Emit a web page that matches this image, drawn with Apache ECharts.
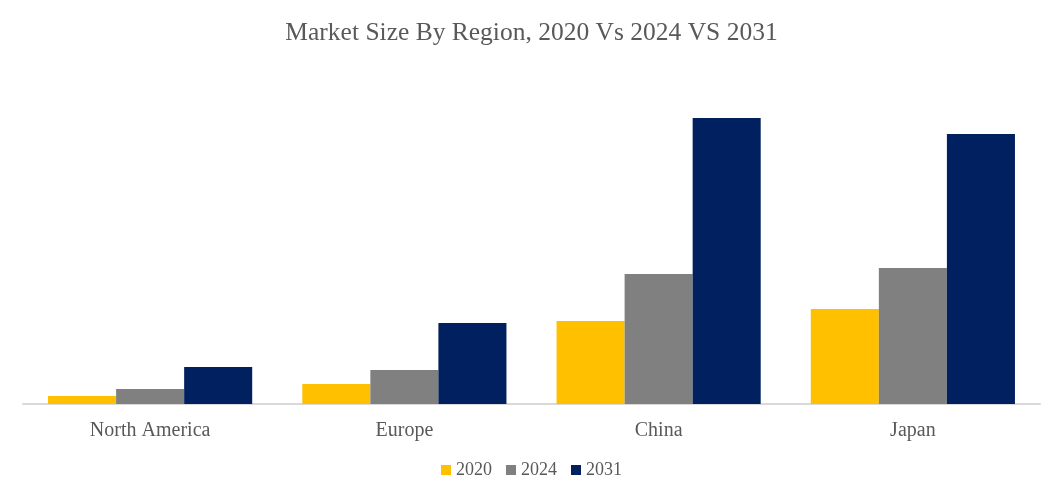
<!DOCTYPE html>
<html><head><meta charset="utf-8">
<script src="https://cdn.jsdelivr.net/npm/echarts@6/dist/echarts.min.js"></script>
<style>html,body{margin:0;padding:0;background:#fff}#c{width:1063px;height:501px}</style>
</head><body><div id="c"></div>
<script>
const categories = ['North America', 'Europe', 'China', 'Japan'];
const seriesNames = ['2020', '2024', '2031'];
const values2020 = [0.8, 2.0, 8.3, 9.5];
const values2024 = [1.5, 3.4, 13.0, 13.6];
const values2031 = [3.7, 8.1, 28.6, 27.0];
const colors = ['#FFC000', '#808080', '#002060'];
const font = '"Liberation Serif", "DejaVu Serif", serif';
const chart = echarts.init(document.getElementById('c'));
chart.setOption({
  animation: false,
  title: { text: 'Market Size By Region, 2020 Vs 2024 VS 2031', left: 'center', top: 15,
    textStyle: { fontFamily: font, fontSize: 25.5, fontWeight: 'normal', color: '#595959' } },
  legend: { bottom: 17, left: 'center', itemWidth: 10, itemHeight: 10, itemGap: 14, icon: 'rect',
    textStyle: { fontFamily: font, fontSize: 18, color: '#595959' }, data: seriesNames },
  grid: { left: 23, right: 23, top: 104, bottom: 97 },
  xAxis: { type: 'category', data: categories,
    axisLine: { lineStyle: { color: '#d9d9d9', width: 2 } }, axisTick: { show: false },
    axisLabel: { fontFamily: font, fontSize: 20, color: '#595959', margin: 17 } },
  yAxis: { type: 'value', min: 0, max: 30, show: false, splitLine: { show: false } },
  series: [
    { name: seriesNames[0], type: 'bar', data: values2020, itemStyle: { color: colors[0] }, barGap: '0%', barCategoryGap: '19.7%' },
    { name: seriesNames[1], type: 'bar', data: values2024, itemStyle: { color: colors[1] }, barGap: '0%', barCategoryGap: '19.7%' },
    { name: seriesNames[2], type: 'bar', data: values2031, itemStyle: { color: colors[2] }, barGap: '0%', barCategoryGap: '19.7%' }
  ]
});
</script></body></html>
